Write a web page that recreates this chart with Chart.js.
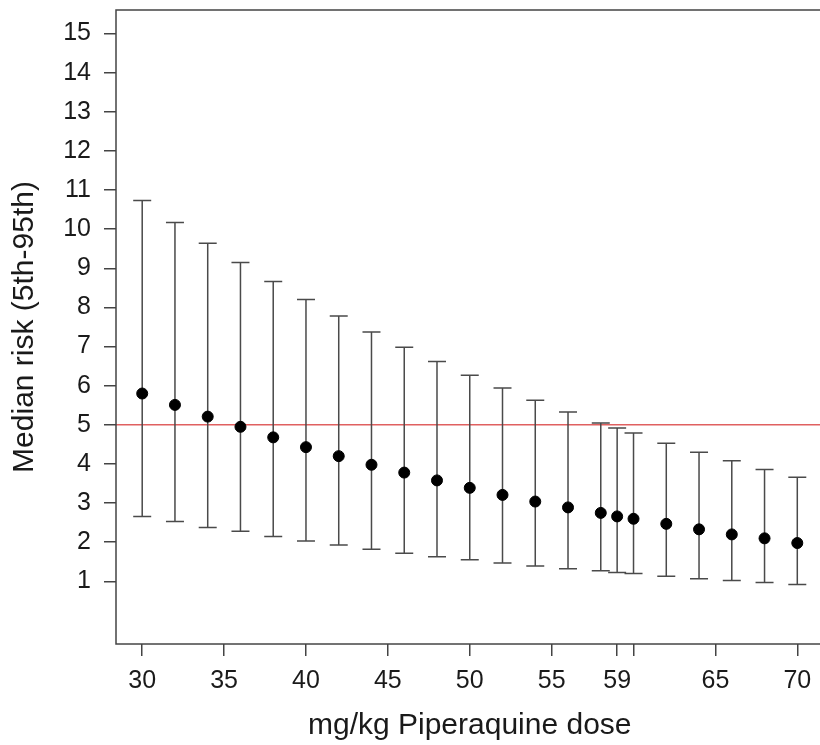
<!DOCTYPE html>
<html>
<head>
<meta charset="utf-8">
<script src="https://cdn.jsdelivr.net/npm/chart.js@4.4.0/dist/chart.umd.min.js"></script>
<style>
  html, body { margin: 0; padding: 0; background: #fff; overflow: hidden; }
  #wrap { width: 820px; height: 745px; overflow: hidden; }
  #risk { display: block; }
</style>
</head>
<body>
<div id="wrap"><canvas id="risk" width="830" height="745"></canvas></div>
<script>
// doses (mg/kg) and median risk with 5th / 95th percentiles
const doses  = [30, 32, 34, 36, 38, 40, 42, 44, 46, 48, 50, 52, 54, 56, 58, 59, 60, 62, 64, 66, 68, 70];
const median = [5.80, 5.51, 5.21, 4.95, 4.68, 4.43, 4.20, 3.98, 3.78, 3.58, 3.39, 3.21, 3.04, 2.89, 2.75, 2.66, 2.60, 2.47, 2.33, 2.20, 2.10, 1.98];
const upper  = [10.73, 10.17, 9.64, 9.15, 8.66, 8.20, 7.78, 7.37, 6.98, 6.62, 6.27, 5.94, 5.63, 5.33, 5.05, 4.92, 4.79, 4.53, 4.30, 4.08, 3.86, 3.66];
const lower  = [2.66, 2.53, 2.38, 2.28, 2.15, 2.03, 1.93, 1.82, 1.72, 1.63, 1.55, 1.47, 1.39, 1.32, 1.27, 1.23, 1.20, 1.13, 1.07, 1.02, 0.97, 0.92];
const xTicks = [30, 35, 40, 45, 50, 55, 59, 60, 65, 70];
const xHidden = [60];
const yTicks = [1, 2, 3, 4, 5, 6, 7, 8, 9, 10, 11, 12, 13, 14, 15];
const threshold = 5;

const FONT = 'Liberation Sans, Arial, sans-serif';

const extras = {
  id: 'extras',
  beforeDatasetsDraw(chart) {
    const { ctx, chartArea: a, scales: { x, y } } = chart;
    ctx.save();
    // red reference line
    ctx.strokeStyle = '#e06060';
    ctx.lineWidth = 1.5;
    const ty = y.getPixelForValue(threshold);
    ctx.beginPath();
    ctx.moveTo(a.left, ty);
    ctx.lineTo(a.right, ty);
    ctx.stroke();
    // error bars
    ctx.strokeStyle = '#4a4a4a';
    ctx.lineWidth = 1.5;
    doses.forEach((d, i) => {
      const px = x.getPixelForValue(d);
      const pu = y.getPixelForValue(upper[i]);
      const pl = y.getPixelForValue(lower[i]);
      ctx.beginPath();
      ctx.moveTo(px, pu); ctx.lineTo(px, pl);
      ctx.moveTo(px - 9, pu); ctx.lineTo(px + 9, pu);
      ctx.moveTo(px - 9, pl); ctx.lineTo(px + 9, pl);
      ctx.stroke();
    });
    ctx.restore();
  },
  afterDraw(chart) {
    const { ctx, chartArea: a } = chart;
    ctx.save();
    ctx.strokeStyle = '#444';
    ctx.lineWidth = 1.5;
    ctx.strokeRect(a.left, a.top, a.right - a.left, a.bottom - a.top);
    ctx.restore();
  }
};

new Chart(document.getElementById('risk'), {
  type: 'scatter',
  data: {
    datasets: [{
      data: doses.map((d, i) => ({ x: d, y: median[i] })),
      backgroundColor: '#000',
      borderColor: '#000',
      pointRadius: 5.5,
      pointHoverRadius: 5.5
    }]
  },
  options: {
    responsive: false,
    animation: false,
    devicePixelRatio: 1,
    layout: { padding: { top: 10, right: 2, left: 0, bottom: 0 } },
    plugins: { legend: { display: false }, tooltip: { enabled: false } },
    scales: {
      x: {
        min: 28.4,
        max: 71.6,
        afterFit(s) { s.height = 101; s.paddingLeft = 0; s.paddingRight = 0; },
        afterBuildTicks(s) { s.ticks = xTicks.map(v => ({ value: v })); },
        border: { display: false },
        grid: { drawOnChartArea: false, drawTicks: true, tickLength: 12, color: '#444', lineWidth: 1.5 },
        ticks: {
          autoSkip: false,
          maxRotation: 0,
          padding: 10,
          color: '#1a1a1a',
          font: { family: FONT, size: 25 },
          callback: v => xHidden.includes(v) ? '' : String(v)
        },
        title: {
          display: true,
          text: 'mg/kg Piperaquine dose',
          color: '#1a1a1a',
          font: { family: FONT, size: 30 },
          padding: { top: 0, bottom: 1 }
        }
      },
      y: {
        min: -0.6,
        max: 15.6,
        afterFit(s) { s.width = 116; s.paddingTop = 0; s.paddingBottom = 0; },
        afterBuildTicks(s) { s.ticks = yTicks.map(v => ({ value: v })); },
        border: { display: false },
        grid: { drawOnChartArea: false, drawTicks: true, tickLength: 12, color: '#444', lineWidth: 1.5 },
        ticks: {
          autoSkip: false,
          padding: 13,
          color: '#1a1a1a',
          font: { family: FONT, size: 25 }
        },
        title: {
          display: true,
          text: 'Median risk (5th-95th)',
          color: '#1a1a1a',
          font: { family: FONT, size: 30 },
          padding: { top: 7, bottom: 0 }
        }
      }
    }
  },
  plugins: [extras]
});
</script>
</body>
</html>
